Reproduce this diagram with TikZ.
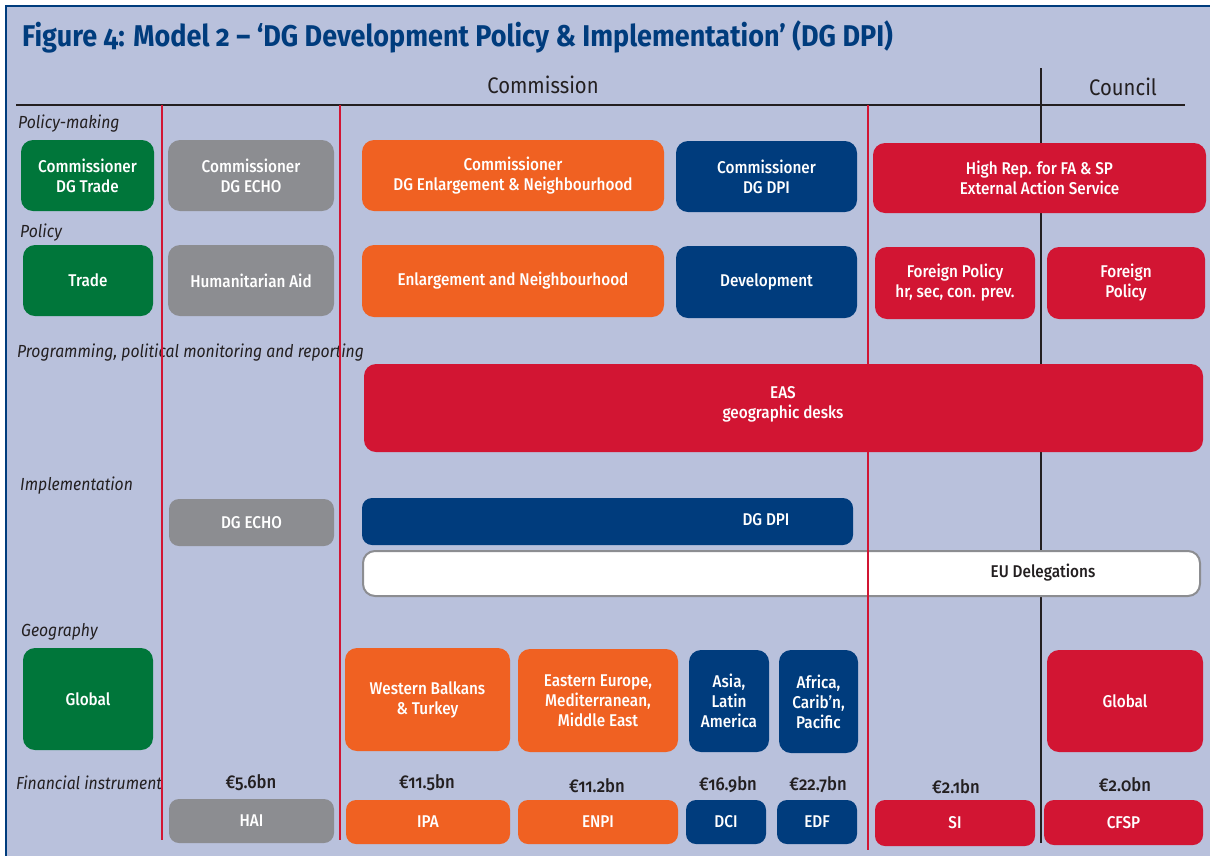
\documentclass[tikz,border=0pt]{standalone}
\usepackage{fontspec}
\setmainfont{Fira Sans}[Numbers=OldStyle, FakeStretch=0.9]
\newfontfamily\medfont{Fira Sans Medium}[Numbers=OldStyle, FakeStretch=0.9]
\definecolor{bgc}{RGB}{185,193,220}
\definecolor{frame}{RGB}{0,60,125}
\definecolor{cgreen}{RGB}{0,118,58}
\definecolor{cgrey}{RGB}{140,141,145}
\definecolor{corange}{RGB}{240,97,34}
\definecolor{cblue}{RGB}{0,60,125}
\definecolor{cred}{RGB}{210,21,51}
\definecolor{ink}{RGB}{35,31,32}
\tikzset{
  box/.style={rounded corners=12pt, inner sep=0pt, align=center, text=white,
     font=\medfont\fontsize{17}{20}\selectfont},
  smallbox/.style={box, rounded corners=10pt},
  boxtext/.style={inner sep=0pt, align=center, text=white, font=\medfont\fontsize{17}{20}\selectfont},
  rowlab/.style={anchor=base west, inner sep=0pt, text=ink, font=\itshape\fontsize{17.5}{20}\selectfont},
  amount/.style={inner sep=0pt, text=ink, font=\medfont\fontsize{18.5}{20}\selectfont},
  head/.style={inner sep=0pt, text=ink, font=\fontsize{22.5}{26}\selectfont},
  redline/.style={draw=cred, line width=2pt},
  blackline/.style={draw=ink, line width=2.5pt},
}
\begin{document}
\begin{tikzpicture}[x=1pt,y=-1pt]
\useasboundingbox (0,0) rectangle (1210,855);
\clip (0,0) rectangle (1210,855);
\fill[white] (0,0) rectangle (1210,855);
\filldraw[fill=bgc, draw=frame, line width=1.5pt] (6,6) rectangle (1230,880);

% title
\node[anchor=west, inner sep=0pt, text=frame, font=\bfseries\fontsize{30}{34}\selectfont] (title) at (22,37)
  {Figure 4: Model 2 – ‘DG Development Policy \& Implementation’ (DG DPI)};

% headings
\node[head] (commission) at (543,85) {Commission};
\node[head] (council) at (1123,87) {Council};

% row labels
\node[rowlab] (l1) at (18,128.5) {Policy-making};
\node[rowlab] (l2) at (20,237.5) {Policy};
\node[rowlab] (l3) at (17,357) {Programming, political monitoring and reporting};
\node[rowlab] (l4) at (20,490.5) {Implementation};
\node[rowlab] (l5) at (21,636.5) {Geography};
\node[rowlab] (l6) at (16,789) {Financial instrument};

% grid lines
\coordinate (hA) at (16,105);
\coordinate (hB) at (1185,105);
\coordinate (kA) at (1041,68);
\coordinate (kB) at (1041,843);
\draw[blackline] (hA) -- (hB);
\draw[blackline] (kA) -- (kB);

% EU delegations (under the red line)
\node[box, fill=white, draw=cgrey, line width=2pt, minimum width=837pt, minimum height=45pt] (eud) at (781.5,573.5) {};
\node[boxtext, text=ink] (eudt) at (1043,573) {EU Delegations};

\coordinate (r1A) at (162,105); \coordinate (r1B) at (162,840);
\coordinate (r2A) at (340,105); \coordinate (r2B) at (340,840);
\coordinate (r3A) at (868,105); \coordinate (r3B) at (868,850);
\draw[redline] (r1A) -- (r1B);
\draw[redline] (r2A) -- (r2B);
\draw[redline] (r3A) -- (r3B);

% row 1
\node[box, fill=cgreen, minimum width=133pt, minimum height=71pt] (ctrade) at (87.5,175.5) {Commissioner\\DG Trade};
\node[box, fill=cgrey, minimum width=166pt, minimum height=71pt] (cecho) at (251,175.5) {Commissioner\\DG ECHO};
\node[box, fill=corange, minimum width=302pt, minimum height=71pt] (cenl) at (513,175.5) {Commissioner\\DG Enlargement \& Neighbourhood};
\node[box, fill=cblue, minimum width=181pt, minimum height=71pt] (cdpi) at (766.5,176.5) {Commissioner\\DG DPI};
\node[box, fill=cred, minimum width=333pt, minimum height=70pt] (hrep) at (1039.5,178) {High Rep. for FA \& SP\\External Action Service};

% row 2
\node[box, fill=cgreen, minimum width=130pt, minimum height=71pt] (trade) at (88,280.5) {Trade};
\node[box, fill=cgrey, minimum width=166pt, minimum height=71pt] (hum) at (251,280.5) {Humanitarian Aid};
\node[box, fill=corange, minimum width=302pt, minimum height=72pt] (enl) at (513,281) {Enlargement and Neighbourhood};
\node[box, fill=cblue, minimum width=181pt, minimum height=72pt] (dev) at (766.5,282) {Development};
\node[box, fill=cred, minimum width=160pt, minimum height=72pt] (fp1) at (955,283) {Foreign Policy\\hr, sec, con. prev.};
\node[box, fill=cred, minimum width=158pt, minimum height=72pt] (fp2) at (1126,283) {Foreign\\Policy};

% row 3
\node[box, fill=cred, minimum width=839pt, minimum height=88pt] (eas) at (783.5,408) {};
\node[boxtext] (east) at (783,404) {EAS\\geographic desks};

% implementation
\node[smallbox, fill=cgrey, minimum width=165pt, minimum height=47pt] (echo) at (251.5,522.5) {DG ECHO};
\node[smallbox, fill=cblue, minimum width=491pt, minimum height=47pt] (dpi) at (607.5,521.5) {};
\node[boxtext] (dpit) at (766,520) {DG DPI};

% geography
\node[box, fill=cgreen, minimum width=130pt, minimum height=102pt] (gglob) at (88,699) {Global};
\node[box, fill=corange, minimum width=165pt, minimum height=103pt] (wb) at (427.5,699.5) {Western Balkans\\\& Turkey};
\node[box, fill=corange, minimum width=160pt, minimum height=103pt] (ee) at (598,700.5) {Eastern Europe,\\Mediterranean,\\Middle East};
\node[box, fill=cblue, minimum width=80pt, minimum height=102pt] (asia) at (729,701) {Asia,\\Latin\\America};
\node[box, fill=cblue, minimum width=79pt, minimum height=103pt] (afr) at (818.5,701.5) {Africa,\\Carib’n,\\Pacific};
\node[box, fill=cred, minimum width=156pt, minimum height=102pt] (rglob) at (1125,701) {Global};

% amounts
\node[amount] (a1) at (251,783) {€5.6bn};
\node[amount] (a2) at (427,783) {€11.5bn};
\node[amount] (a3) at (597,786) {€11.2bn};
\node[amount] (a4) at (728,785) {€16.9bn};
\node[amount] (a5) at (818,785) {€22.7bn};
\node[amount] (a6) at (956,787) {€2.1bn};
\node[amount] (a7) at (1125,785) {€2.0bn};

% financial instruments
\node[smallbox, fill=cgrey, minimum width=165pt, minimum height=44pt] (hai) at (251.5,821) {HAI};
\node[smallbox, fill=corange, minimum width=164pt, minimum height=44pt] (ipa) at (428,822) {IPA};
\node[smallbox, fill=corange, minimum width=160pt, minimum height=44pt] (enpi) at (598,822) {ENPI};
\node[smallbox, fill=cblue, minimum width=80pt, minimum height=44pt] (dci) at (726,822) {DCI};
\node[smallbox, fill=cblue, minimum width=80pt, minimum height=44pt] (edf) at (817,822) {EDF};
\node[smallbox, fill=cred, minimum width=160pt, minimum height=46pt] (si) at (955,823) {SI};
\node[smallbox, fill=cred, minimum width=159pt, minimum height=45pt] (cfsp) at (1123.5,822.5) {CFSP};
\end{tikzpicture}
\end{document}
